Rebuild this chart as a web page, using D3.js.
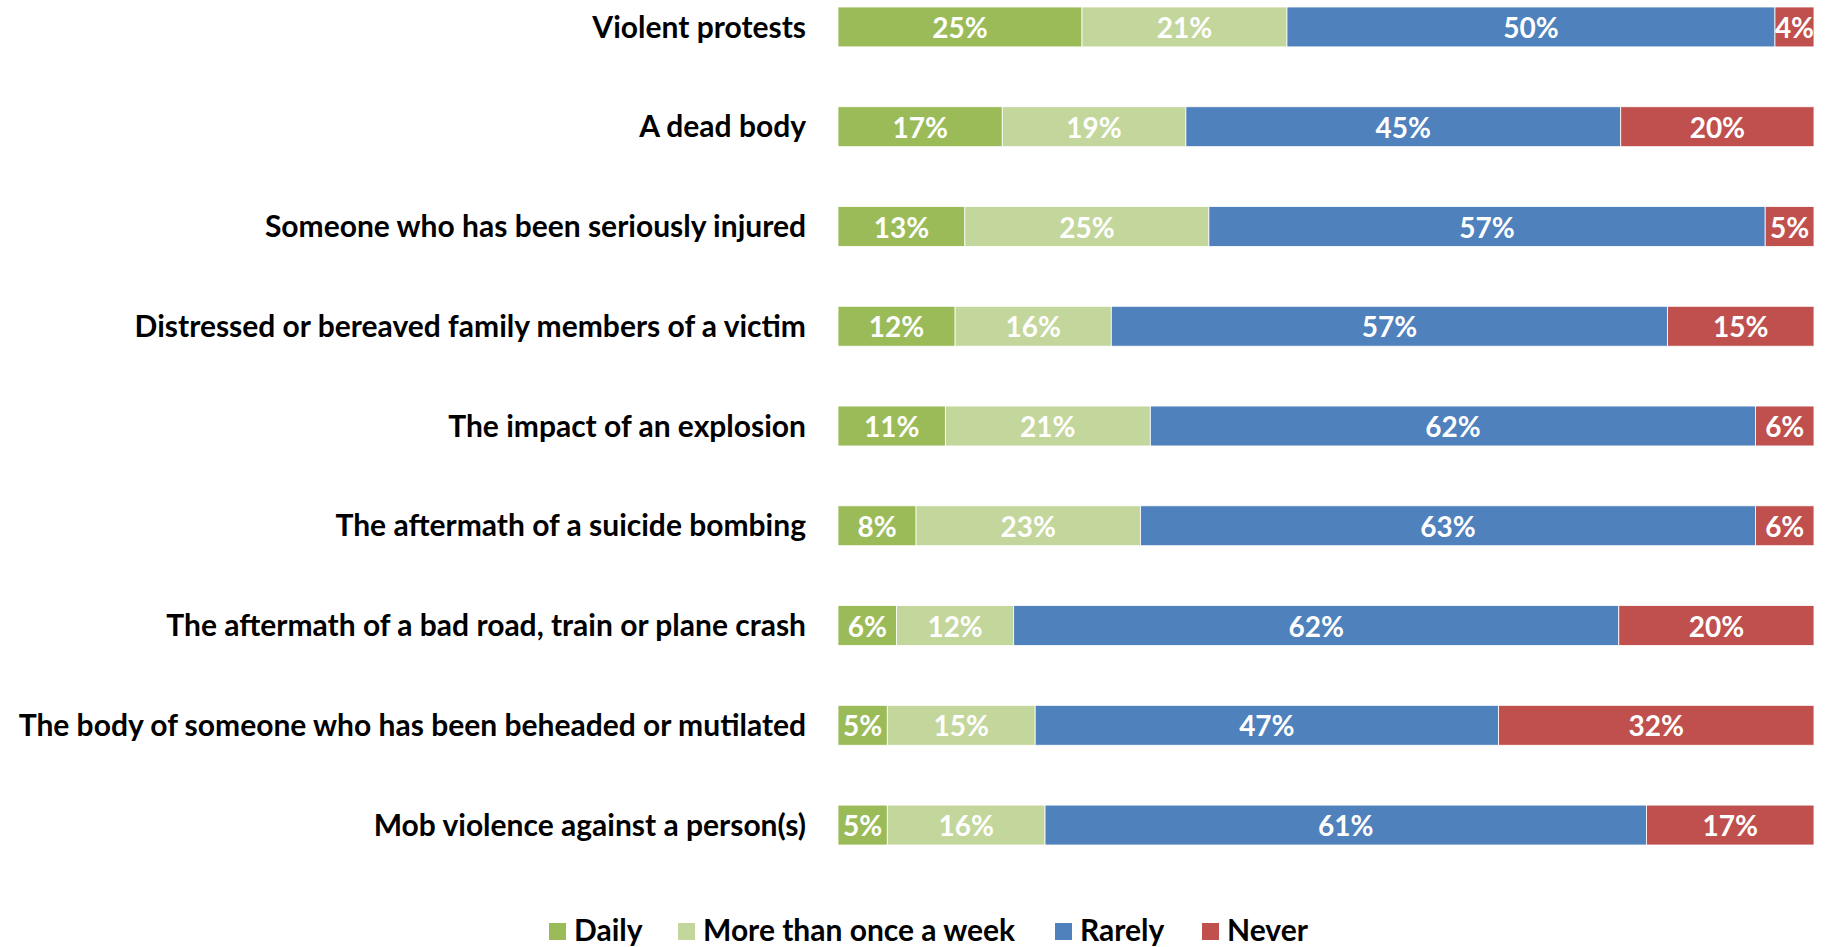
<!DOCTYPE html>
<html>
<head>
<meta charset="utf-8">
<script src="https://cdn.jsdelivr.net/npm/d3@7"></script>
<style>
  html, body { margin: 0; padding: 0; background: #fff; }
  svg { display: block; }
  text { font-family: Lato, "Open Sans", sans-serif; font-weight: bold; }
</style>
</head>
<body>
<svg id="chart" width="1827" height="947"></svg>
<script>
// Exposure to distressing scenes: share of respondents by frequency
const categories = [
  "Violent protests",
  "A dead body",
  "Someone who has been seriously injured",
  "Distressed or bereaved family members of a victim",
  "The impact of an explosion",
  "The aftermath of a suicide bombing",
  "The aftermath of a bad road, train or plane crash",
  "The body of someone who has been beheaded or mutilated",
  "Mob violence against a person(s)"
];
const seriesNames = ["Daily", "More than once a week", "Rarely", "Never"];
const daily      = [25, 17, 13, 12, 11, 8, 6, 5, 5];
const weekly     = [21, 19, 25, 16, 21, 23, 12, 15, 16];
const rarely     = [50, 45, 57, 57, 62, 63, 62, 47, 61];
const never      = [4, 20, 5, 15, 6, 6, 20, 32, 17];
const colors = ["#9BBB59", "#C3D69B", "#4F81BD", "#C0504D"];

const seriesValues = [daily, weekly, rarely, never];
const rows = categories.map((c, i) => {
  const r = { category: c };
  seriesNames.forEach((s, k) => { r[s] = seriesValues[k][i]; });
  return r;
});

const svg = d3.select("#chart");

const x = d3.scaleLinear().domain([0, 1]).range([838, 1814]);
const y = d3.scaleBand()
  .domain(categories)
  .range([7, 845])
  .paddingInner(0.6)
  .paddingOuter(0);
const color = d3.scaleOrdinal().domain(seriesNames).range(colors);

// 100% stacked layout
const stacked = d3.stack()
  .keys(seriesNames)
  .offset(d3.stackOffsetExpand)(rows);

const layers = svg.append("g").selectAll("g")
  .data(stacked)
  .join("g")
  .attr("fill", d => color(d.key));

layers.selectAll("rect")
  .data(d => d.map(p => ({ p, key: d.key })))
  .join("rect")
  .attr("x", d => x(d.p[0]))
  .attr("y", d => y(d.p.data.category))
  .attr("width", d => x(d.p[1]) - x(d.p[0]))
  .attr("height", y.bandwidth())
  .attr("stroke", "#fff")
  .attr("stroke-width", 0.8);

layers.selectAll("text")
  .data(d => d.map(p => ({ p, key: d.key })))
  .join("text")
  .attr("x", d => (x(d.p[0]) + x(d.p[1])) / 2)
  .attr("y", d => y(d.p.data.category) + y.bandwidth() / 2)
  .attr("dy", "0.4em")
  .attr("text-anchor", "middle")
  .attr("fill", "#fff")
  .attr("font-size", 28)
  .text(d => d.p.data[d.key] + "%");

// Category axis on the left, no line or ticks
const yAxis = svg.append("g")
  .attr("transform", "translate(838,1)")
  .call(d3.axisLeft(y).tickSize(0).tickPadding(32));
yAxis.select(".domain").remove();
yAxis.selectAll("text")
  .attr("font-size", 30)
  .attr("fill", "#000")
  .style("font-family", "Lato, 'Open Sans', sans-serif")
  .style("font-weight", "bold");

// Legend
const legendX = [549, 678, 1055, 1202];
const legend = svg.append("g").selectAll("g")
  .data(seriesNames)
  .join("g")
  .attr("transform", (d, i) => `translate(${legendX[i]},923)`);
legend.append("rect")
  .attr("width", 17)
  .attr("height", 17)
  .attr("fill", d => color(d));
legend.append("text")
  .attr("x", 25)
  .attr("y", 18)
  .attr("font-size", 30)
  .attr("fill", "#000")
  .text(d => d);
</script>
</body>
</html>
